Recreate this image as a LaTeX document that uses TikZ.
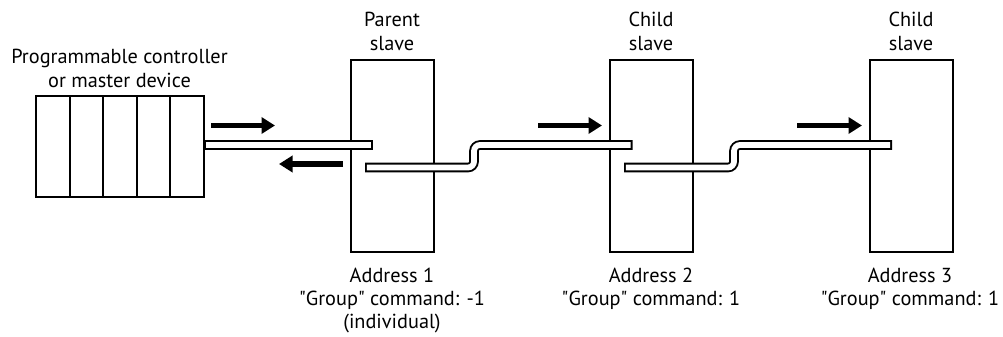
\documentclass[tikz,border=0pt]{standalone}
\usepackage{fontspec}
\setmainfont{PT Sans}
\usetikzlibrary{arrows.meta}
\newcommand{\qq}{\textquotedbl}
\tikzset{
  box/.style={draw=black,line width=2pt,inner sep=0pt,outer sep=0pt},
  slavebox/.style={box,minimum width=83pt,minimum height=192pt},
  cableout/.style={draw=black,line width=9.6pt,rounded corners=6pt},
  cablein/.style={draw=white,line width=5.8pt,rounded corners=6pt,shorten <=1.9pt,shorten >=1.9pt},
  flow/.style={line width=5.6pt,-{Triangle[length=13.5pt,width=16pt]}},
  toplbl/.style={anchor=south,align=center,inner sep=0pt,font=\fontsize{20.3}{24}\selectfont},
  botlbl/.style={anchor=north,align=center,inner sep=0pt,font=\fontsize{20.3}{23}\selectfont},
}
\begin{document}
\begin{tikzpicture}[x=1pt,y=-1pt]
\useasboundingbox (0,0) rectangle (1003,337);
% controller
\node[box,minimum width=168pt,minimum height=101pt] (ctrl) at (120,146.5) {};
\foreach \i in {1,2,3,4}{ \draw[box] ({36+33.6*\i},96) -- ({36+33.6*\i},197); }
% slaves
\node[slavebox] (par) at (392,156) {};
\node[slavebox] (ch1) at (651,156) {};
\node[slavebox] (ch2) at (911,156) {};
% connection points
\coordinate (c0) at (204,145);
\coordinate (p1) at (373,145);
\coordinate (p2) at (365,167.5);
\coordinate (b1) at (474,167.5);
\coordinate (b1u) at (474,145);
\coordinate (q1) at (632.5,145);
\coordinate (q2) at (624,167.5);
\coordinate (b2) at (734,167.5);
\coordinate (b2u) at (734,145);
\coordinate (r1) at (892,145);
% cables
\draw[cableout] (c0) -- (p1);
\draw[cablein] (c0) -- (p1);
\draw[cableout] (p2) -- (b1) -- (b1u) -- (q1);
\draw[cablein] (p2) -- (b1) -- (b1u) -- (q1);
\draw[cableout] (q2) -- (b2) -- (b2u) -- (r1);
\draw[cablein] (q2) -- (b2) -- (b2u) -- (r1);
% arrows
\coordinate (a1s) at (211,125.5); \coordinate (a1e) at (275,125.5);
\coordinate (a0s) at (343,164); \coordinate (a0e) at (279,164);
\coordinate (a2s) at (538,125.5); \coordinate (a2e) at (602,125.5);
\coordinate (a3s) at (797,125.5); \coordinate (a3e) at (862,125.5);
\draw[flow] (a1s) -- (a1e);
\draw[flow] (a0s) -- (a0e);
\draw[flow] (a2s) -- (a2e);
\draw[flow] (a3s) -- (a3e);
% labels
\node[toplbl] (lctrl) at (119.5,88) {Programmable controller\\or master device};
\node[toplbl] (lpar) at (392,50.7) {Parent\\slave};
\node[toplbl] (lch1) at (651,50.7) {Child\\slave};
\node[toplbl] (lch2) at (911,50.7) {Child\\slave};
\node[botlbl] (la1) at (392,268) {Address 1\\\qq Group\qq{} command: -1\\(individual)};
\node[botlbl] (la2) at (651,268) {Address 2\\\qq Group\qq{} command: 1};
\node[botlbl] (la3) at (910,268) {Address 3\\\qq Group\qq{} command: 1};
\end{tikzpicture}
\end{document}
